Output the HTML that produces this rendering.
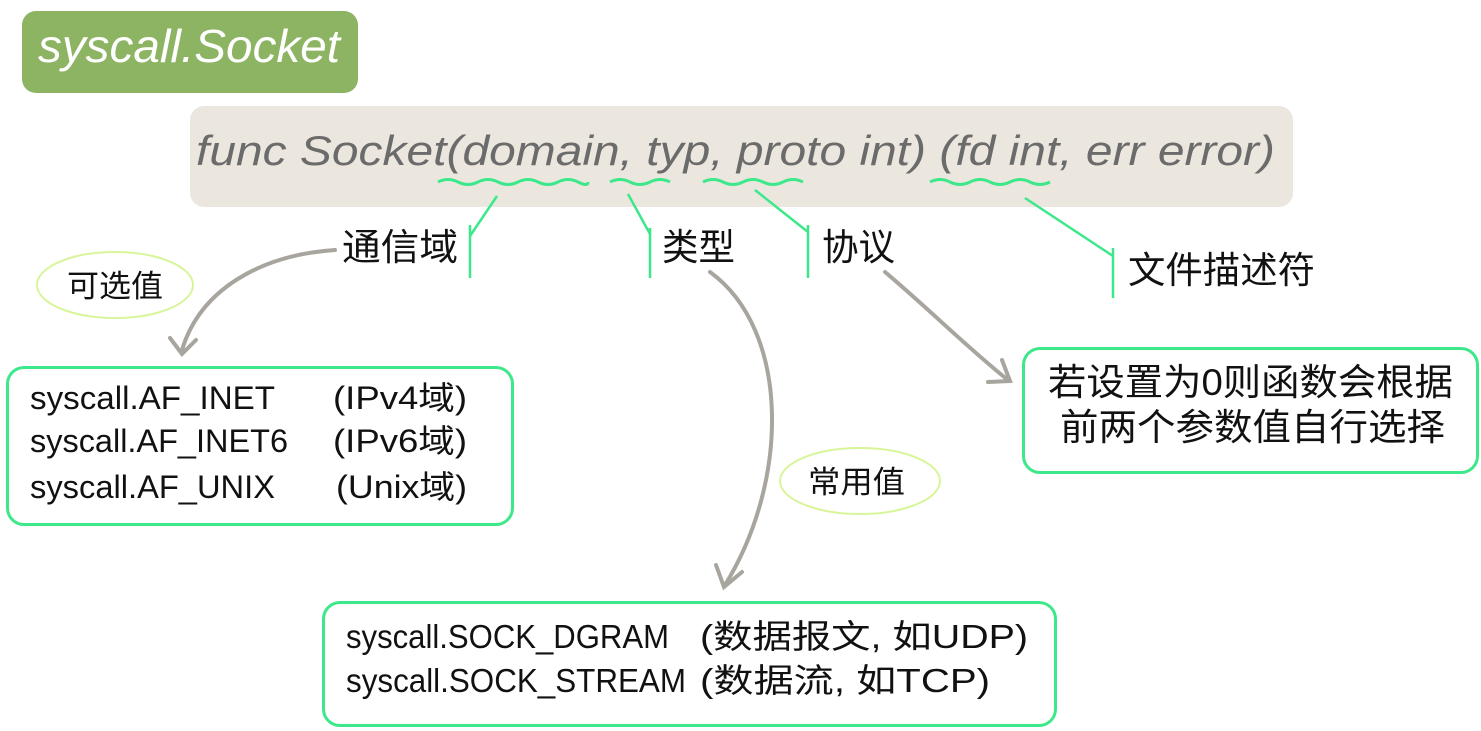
<!DOCTYPE html>
<html><head><meta charset="utf-8"><style>
html,body{margin:0;padding:0;background:#fff;}
body{width:1481px;height:731px;overflow:hidden;position:relative;font-family:"Liberation Sans","Noto Sans CJK SC",sans-serif;}
.abs{position:absolute;}
.box{position:absolute;border:3px solid #3de88a;border-radius:18px;box-sizing:border-box;background:#fff;}
text{font-family:"Liberation Sans","Noto Sans CJK SC",sans-serif;fill:#111;}
</style></head><body>
<div class="box" style="left:6px;top:366px;width:508px;height:160px;"></div>
<div class="box" style="left:322px;top:601px;width:735px;height:126px;"></div>
<div class="box" style="left:1022px;top:347px;width:457px;height:127px;"></div>
<svg class="abs" style="left:0;top:0" width="1481" height="731">
  <rect x="22" y="11" width="336" height="82" rx="14" fill="#8db462"/>
  <rect x="190" y="106" width="1103" height="101" rx="14" fill="#ebe7df"/>
  <g stroke="#3de88a" stroke-width="3" fill="none">
    <path d="M438 182 q10 -5 20 0 t20 0 t20 0 t20 0 t20 0 t20 0 t20 0 t10 0"/>
    <path d="M610 182 q10 -5 20 0 t20 0 t20 0"/>
    <path d="M703 182 q10 -5 20 0 t20 0 t20 0 t20 0 t20 0"/>
    <path d="M930 182 q10 -5 20 0 t20 0 t20 0 t20 0 t20 0 t20 0"/>
  </g>
  <g stroke="#3de88a" stroke-width="2.5" fill="none">
    <path d="M497 196 L470 236 M470 225 L470 278"/>
    <path d="M628 194 L650 234 M650 228 L650 278"/>
    <path d="M755 190 L808 232 M808 225 L808 278"/>
    <path d="M1025 198 L1113 256 M1113 248 L1113 298"/>
  </g>
  <ellipse cx="115" cy="285" rx="78" ry="33" fill="none" stroke="#d8f59a" stroke-width="2"/>
  <ellipse cx="860" cy="481" rx="80" ry="33" fill="none" stroke="#d8f59a" stroke-width="2"/>
  <g stroke="#a8a49e" stroke-width="4" fill="none" stroke-linecap="round">
    <path d="M335 250 C260 255 200 290 182 350"/>
    <path d="M170 338 L182 354 L196 340"/>
    <path d="M710 272 C790 330 790 480 725 585"/>
    <path d="M716 565 L724 587 L742 572"/>
    <path d="M885 272 C930 310 970 350 1008 380"/>
    <path d="M988 382 L1010 381 L1002 360"/>
  </g>
  <text x="38" y="62" font-size="46" font-style="italic" style="fill:#fff" textLength="302" lengthAdjust="spacingAndGlyphs">syscall.Socket</text>
  <text x="196" y="165" font-size="42" font-style="italic" style="fill:#6b6b6b" textLength="1079" lengthAdjust="spacingAndGlyphs">func Socket(domain, typ, proto int) (fd int, err error)</text>
  <text x="342" y="260" font-size="37" textLength="116" lengthAdjust="spacingAndGlyphs">通信域</text>
  <text x="662" y="260" font-size="37" textLength="73" lengthAdjust="spacingAndGlyphs">类型</text>
  <text x="822" y="260" font-size="37" textLength="73" lengthAdjust="spacingAndGlyphs">协议</text>
  <text x="1128" y="283" font-size="37" textLength="187" lengthAdjust="spacingAndGlyphs">文件描述符</text>
  <text x="67" y="297" font-size="31" textLength="96" lengthAdjust="spacingAndGlyphs">可选值</text>
  <text x="808" y="493" font-size="31" textLength="97" lengthAdjust="spacingAndGlyphs">常用值</text>
  <g font-size="32">
    <text x="30" y="409" textLength="245" lengthAdjust="spacingAndGlyphs">syscall.AF_INET</text>
    <text x="333" y="409" textLength="134" lengthAdjust="spacingAndGlyphs">(IPv4域)</text>
    <text x="30" y="452" textLength="258" lengthAdjust="spacingAndGlyphs">syscall.AF_INET6</text>
    <text x="333" y="452" textLength="134" lengthAdjust="spacingAndGlyphs">(IPv6域)</text>
    <text x="30" y="498" textLength="245" lengthAdjust="spacingAndGlyphs">syscall.AF_UNIX</text>
    <text x="336" y="498" textLength="131" lengthAdjust="spacingAndGlyphs">(Unix域)</text>
  </g>
  <g font-size="33">
    <text x="346" y="648" textLength="323" lengthAdjust="spacingAndGlyphs">syscall.SOCK_DGRAM</text>
    <text x="700" y="648" textLength="328" lengthAdjust="spacingAndGlyphs">(数据报文, 如UDP)</text>
    <text x="346" y="692" textLength="340" lengthAdjust="spacingAndGlyphs">syscall.SOCK_STREAM</text>
    <text x="700" y="692" textLength="290" lengthAdjust="spacingAndGlyphs">(数据流, 如TCP)</text>
  </g>
  <g font-size="37">
    <text x="1048" y="395" textLength="405" lengthAdjust="spacingAndGlyphs">若设置为0则函数会根据</text>
    <text x="1060" y="440" textLength="385" lengthAdjust="spacingAndGlyphs">前两个参数值自行选择</text>
  </g>
</svg>
</body></html>
